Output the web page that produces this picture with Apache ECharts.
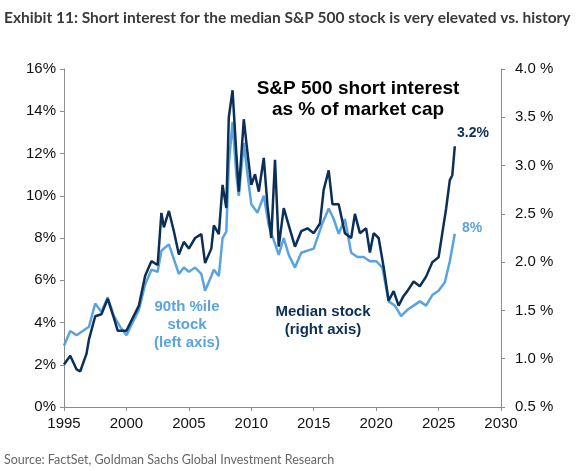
<!DOCTYPE html>
<html>
<head>
<meta charset="utf-8">
<script src="https://cdn.jsdelivr.net/npm/echarts@6/dist/echarts.min.js"></script>
<style>
  html, body { margin: 0; padding: 0; background: #fff; overflow: hidden; }
  #chart { width: 579px; height: 471px; }
</style>
</head>
<body>
<div id="chart"></div>
<script>
// 90th percentile stock, left axis (%)
const p90Years = [1995, 1995.5, 1996, 1996.5, 1997, 1997.5, 1998, 1998.5, 1999, 1999.5, 2000, 2000.5, 2001, 2001.5, 2002, 2002.5, 2002.8, 2003.4, 2003.8, 2004.2, 2004.6, 2005, 2005.5, 2006, 2006.3, 2006.8, 2007, 2007.4, 2007.7, 2008, 2008.2, 2008.5, 2008.8, 2009, 2009.4, 2009.7, 2010, 2010.5, 2011, 2011.4, 2011.8, 2012.2, 2012.6, 2013, 2013.5, 2014, 2015, 2015.7, 2016.2, 2016.6, 2017, 2017.5, 2018, 2018.5, 2019, 2019.5, 2020, 2020.5, 2021, 2021.5, 2022, 2022.5, 2023, 2023.5, 2024, 2024.5, 2025, 2025.5, 2025.9, 2026.3];
const p90Values = [2.9, 3.6, 3.4, 3.6, 3.8, 4.9, 4.5, 5.2, 4.3, 3.8, 3.4, 4.0, 4.6, 5.8, 6.5, 6.4, 7.4, 7.7, 7.0, 6.3, 6.6, 6.4, 6.6, 6.3, 5.5, 6.2, 6.5, 6.2, 8.0, 8.3, 11.5, 13.5, 11.0, 10.0, 12.5, 11.0, 9.6, 9.2, 10.0, 8.6, 7.9, 7.2, 8.0, 7.2, 6.6, 7.3, 7.5, 8.7, 9.4, 8.9, 8.2, 8.9, 7.3, 7.1, 7.1, 6.9, 6.9, 6.6, 5.0, 4.8, 4.3, 4.6, 4.8, 5.0, 4.8, 5.3, 5.5, 5.9, 6.9, 8.2];

// median stock, right axis (%)
const medYears = [1995, 1995.5, 1996, 1996.3, 1996.8, 1997, 1997.5, 1998, 1998.5, 1999, 1999.3, 2000, 2000.5, 2001, 2001.5, 2002, 2002.5, 2002.8, 2003, 2003.4, 2003.8, 2004.2, 2004.6, 2005, 2005.5, 2006, 2006.3, 2006.8, 2007, 2007.4, 2007.7, 2008, 2008.2, 2008.5, 2008.8, 2009, 2009.4, 2009.7, 2010, 2010.3, 2010.6, 2011, 2011.3, 2011.6, 2011.9, 2012.2, 2012.6, 2013, 2013.5, 2014, 2014.5, 2015, 2015.5, 2015.8, 2016.2, 2016.5, 2017, 2017.5, 2018, 2018.3, 2018.7, 2019.2, 2019.5, 2019.8, 2020.2, 2020.6, 2021, 2021.4, 2021.8, 2022.2, 2022.5, 2023, 2023.5, 2024, 2024.5, 2025, 2025.3, 2025.6, 2025.9, 2026.1, 2026.3];
const medValues = [0.94, 1.03, 0.89, 0.87, 1.05, 1.20, 1.44, 1.46, 1.62, 1.42, 1.29, 1.29, 1.42, 1.55, 1.86, 2.01, 1.97, 2.51, 2.36, 2.53, 2.32, 2.08, 2.21, 2.14, 2.25, 2.29, 1.99, 2.14, 2.38, 2.29, 2.80, 2.56, 3.50, 3.78, 3.13, 2.73, 3.48, 3.13, 2.80, 2.91, 2.73, 3.08, 2.58, 2.25, 3.06, 2.16, 2.56, 2.38, 2.16, 2.32, 2.35, 2.30, 2.40, 2.75, 2.95, 2.60, 2.60, 2.30, 2.25, 2.50, 2.30, 2.35, 2.10, 2.30, 2.25, 1.95, 1.60, 1.70, 1.55, 1.65, 1.70, 1.80, 1.75, 1.85, 2.00, 2.05, 2.30, 2.55, 2.85, 2.90, 3.20];

const leftTicks = [0, 16, 2];
const rightTicks = [0.5, 4.0, 0.5];
const yearTicks = [1995, 2030, 5];

const light = '#5ba3e0';
const navy = '#0c2f57';
const axisGrey = '#8c8c8c';
const font = 'Liberation Sans, Arial, sans-serif';

const chart = echarts.init(document.getElementById('chart'));
chart.setOption({
  animation: false,
  grid: { left: 64, right: 78, top: 69, bottom: 64 },
  xAxis: {
    type: 'value', min: yearTicks[0], max: yearTicks[1], interval: yearTicks[2],
    axisLine: { lineStyle: { color: axisGrey } },
    axisTick: { show: true, length: 4, lineStyle: { color: axisGrey } },
    splitLine: { show: false },
    axisLabel: { color: '#111', fontSize: 15, fontFamily: font, margin: 9, formatter: v => String(v) }
  },
  yAxis: [{
    type: 'value', min: leftTicks[0], max: leftTicks[1], interval: leftTicks[2],
    axisLine: { show: true, lineStyle: { color: axisGrey } },
    axisTick: { show: true, length: 4, lineStyle: { color: axisGrey } },
    splitLine: { show: false },
    axisLabel: { color: '#111', fontSize: 15, fontFamily: font, formatter: v => v + '%' }
  }, {
    type: 'value', min: rightTicks[0], max: rightTicks[1], interval: rightTicks[2],
    position: 'right',
    axisLine: { show: true, lineStyle: { color: axisGrey } },
    axisTick: { show: true, length: 4, lineStyle: { color: axisGrey } },
    splitLine: { show: false },
    axisLabel: { color: '#111', fontSize: 15, fontFamily: font, margin: 14, formatter: v => v.toFixed(1) + ' %' }
  }],
  series: [{
    type: 'line', yAxisIndex: 0, showSymbol: false,
    lineStyle: { color: light, width: 2.5 },
    data: p90Years.map((y, i) => [y, p90Values[i]])
  }, {
    type: 'line', yAxisIndex: 1, showSymbol: false,
    lineStyle: { color: navy, width: 2.5 },
    data: medYears.map((y, i) => [y, medValues[i]])
  }],
  graphic: [
    { type: 'text', left: 4, top: 10, style: { text: 'Exhibit 11: Short interest for the median S&P 500 stock is very elevated vs. history', font: 'bold 15.5px Lato, sans-serif', fill: '#3a3a3a' } },
    { type: 'text', left: 4, top: 453, style: { text: 'Source: FactSet, Goldman Sachs Global Investment Research', font: '12.5px Lato, sans-serif', fill: '#666' } },
    { type: 'text', x: 358, y: 78, style: { text: 'S&P 500 short interest\nas % of market cap', font: 'bold 19px ' + font, fill: '#000', align: 'center', lineHeight: 21 } },
    { type: 'text', x: 457, y: 126, style: { text: '3.2%', font: 'bold 14px ' + font, fill: navy } },
    { type: 'text', x: 462, y: 221, style: { text: '8%', font: 'bold 14px ' + font, fill: light } },
    { type: 'text', x: 187, y: 298, style: { text: '90th %ile\nstock\n(left axis)', font: 'bold 15px ' + font, fill: light, align: 'center', lineHeight: 18 } },
    { type: 'text', x: 323, y: 303, style: { text: 'Median stock\n(right axis)', font: 'bold 15px ' + font, fill: navy, align: 'center', lineHeight: 18 } }
  ]
});
</script>
</body>
</html>
